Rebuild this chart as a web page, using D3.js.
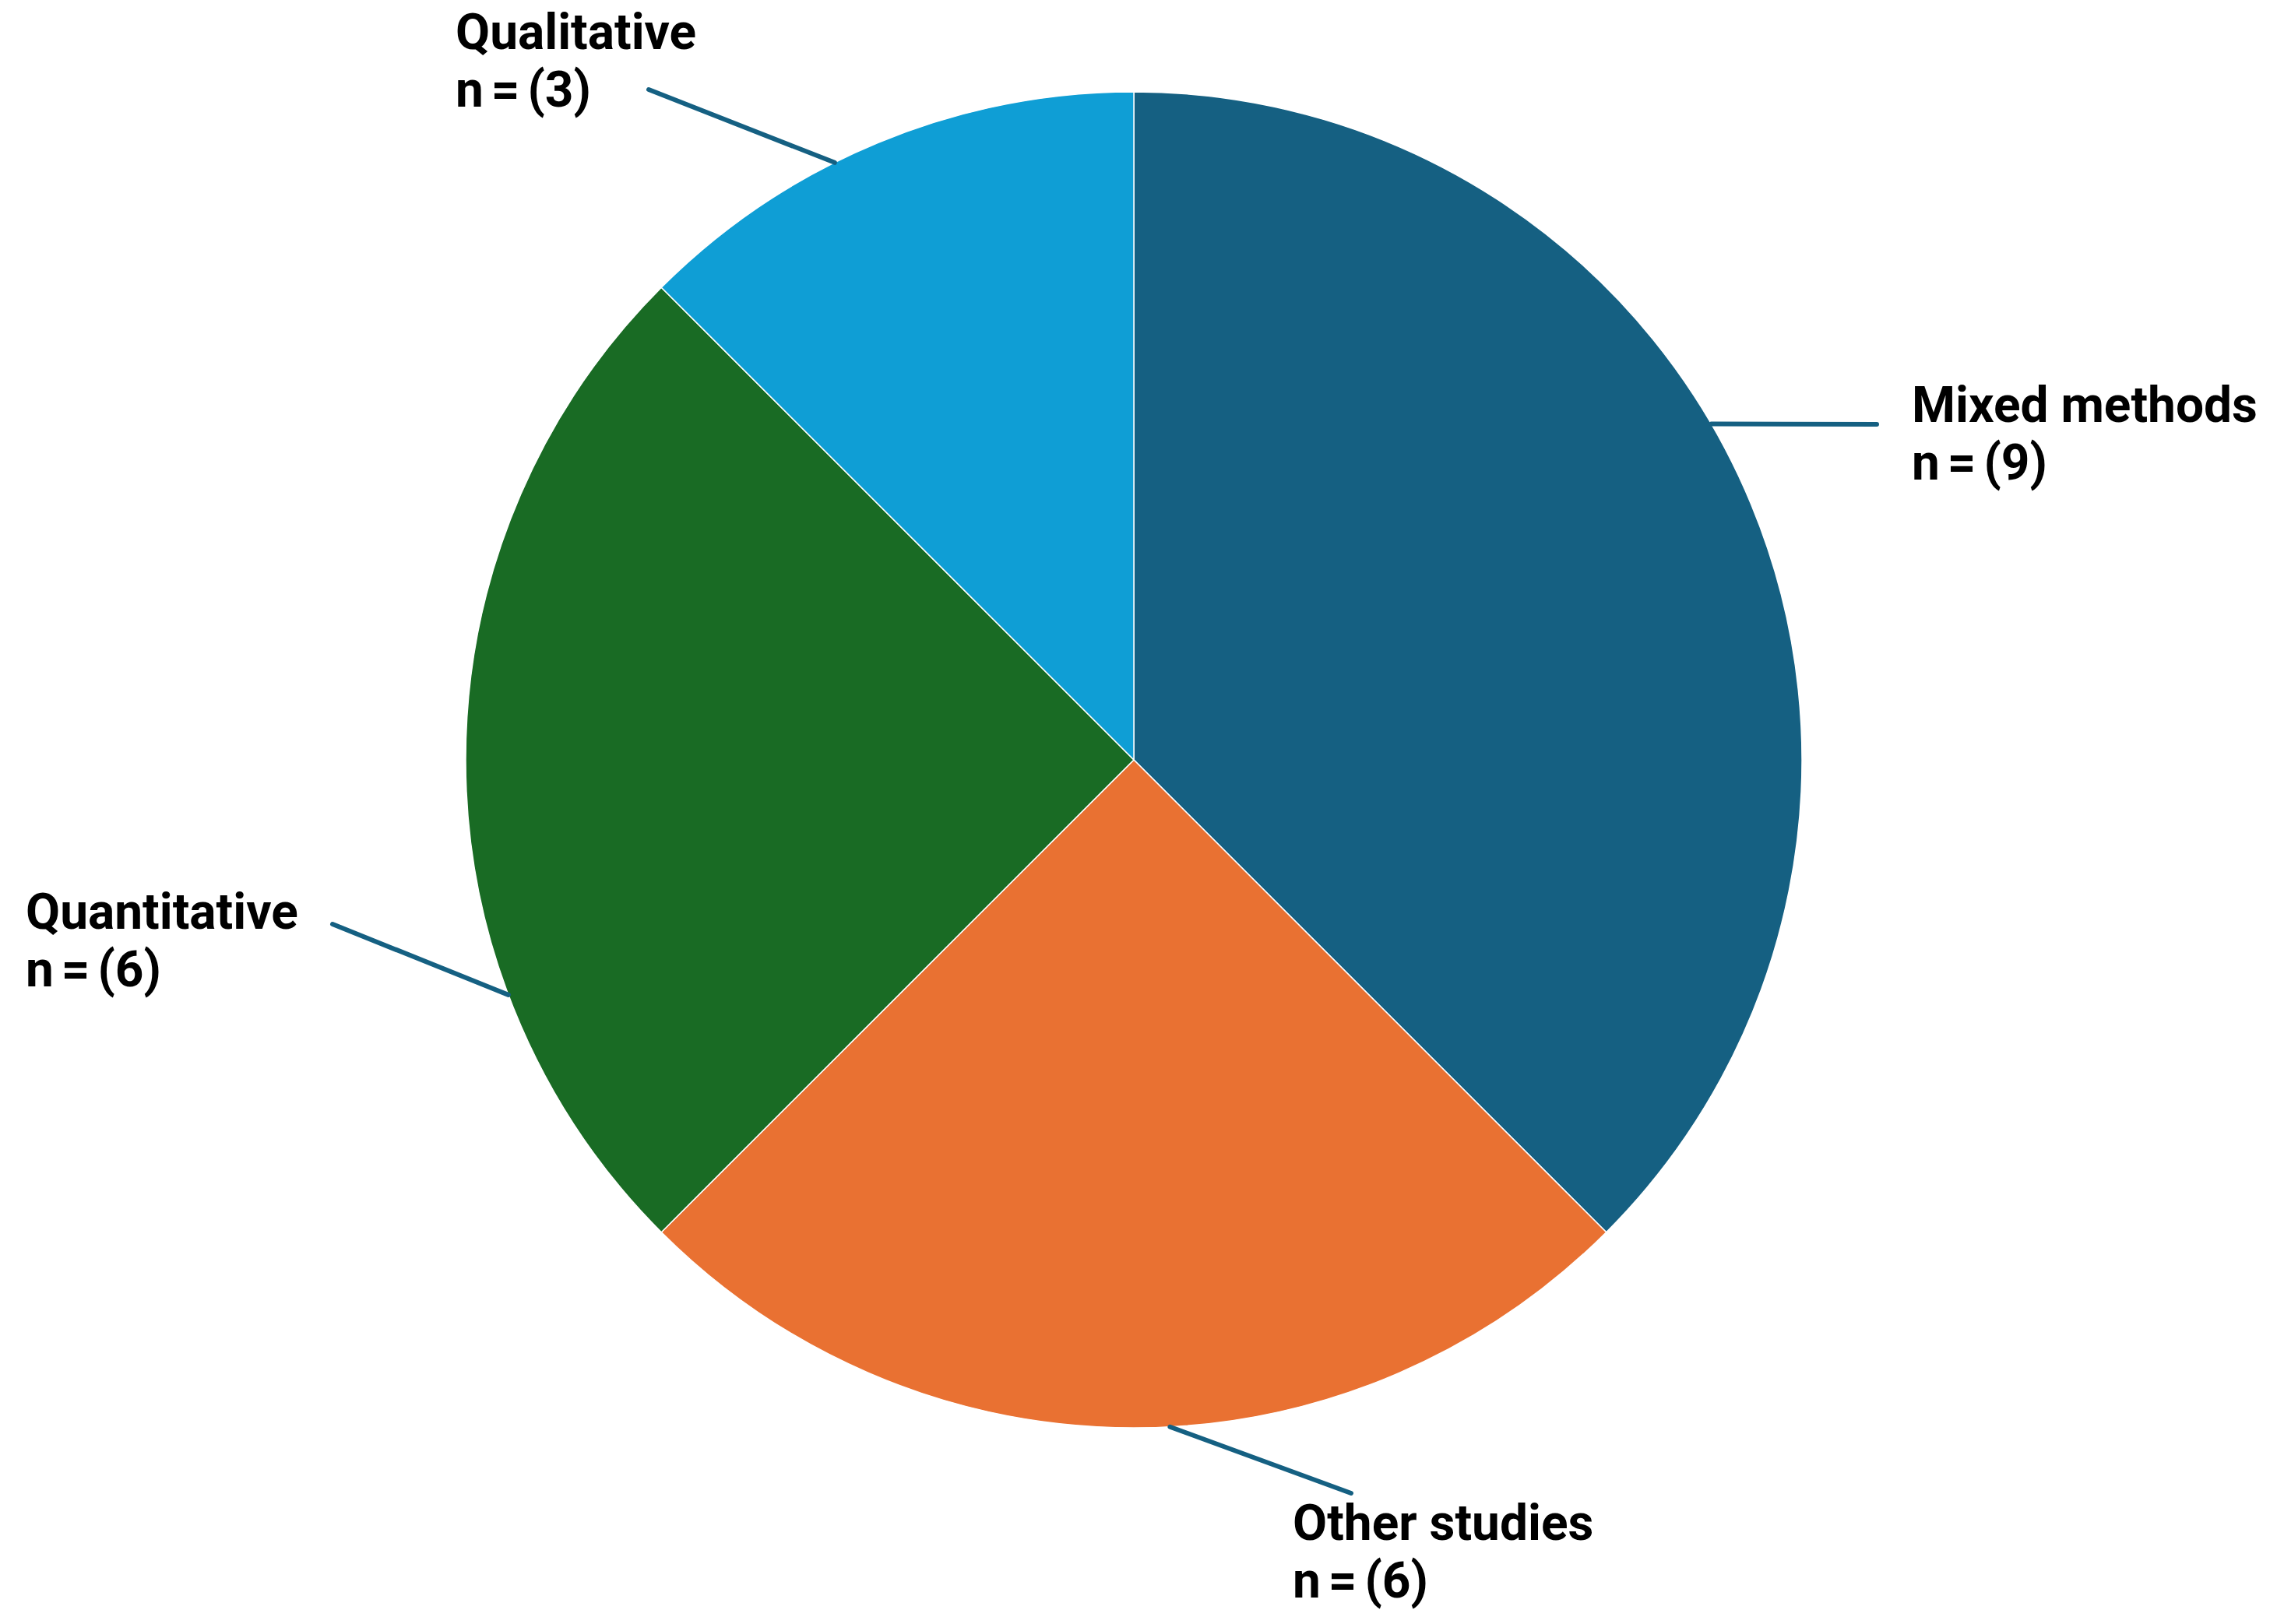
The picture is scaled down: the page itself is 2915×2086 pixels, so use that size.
<!DOCTYPE html>
<html>
<head>
<meta charset="utf-8">
<script src="https://cdn.jsdelivr.net/npm/d3@7"></script>
<style>
  html, body { margin: 0; padding: 0; background: #fff; }
  svg { display: block; }
</style>
</head>
<body>
<div id="chart"></div>
<script>
// study types, clockwise from 12 o'clock
const categories = ['Mixed methods', 'Other studies', 'Quantitative', 'Qualitative'];
const counts = [9, 6, 6, 3];
const colors = ['#156082', '#E97132', '#196B24', '#0F9ED5'];

// where each label sits and where its leader touches the pie (degrees, clockwise from top)
const labelLayout = {
  'Mixed methods': { x: 2455, y: 542, lineTo: [-45, 3], angle: 59.8 },
  'Other studies': { x: 1660, y: 1978, lineTo: [75, -60], angle: 176.9 },
  'Quantitative': { x: 33, y: 1193, lineTo: [394, -6], angle: 249.4 },
  'Qualitative': { x: 585, y: 63, lineTo: [248, 52], angle: 333.4 }
};

const width = 2915;
const height = 2086;
const cx = 1456;
const cy = 976;
const radius = 858;
const lineHeight = 74;

const data = categories.map((c, i) => ({ name: c, value: counts[i], color: colors[i] }));

const svg = d3.select('#chart').append('svg')
  .attr('width', width)
  .attr('height', height);

svg.append('rect')
  .attr('width', width)
  .attr('height', height)
  .attr('fill', '#fff');

const pie = d3.pie()
  .sort(null)
  .value(d => d.value);

const arc = d3.arc()
  .innerRadius(0)
  .outerRadius(radius);

const g = svg.append('g')
  .attr('transform', `translate(${cx},${cy})`);

g.selectAll('.slice')
  .data(pie(data))
  .enter()
  .append('path')
  .attr('class', 'slice')
  .attr('d', arc)
  .attr('fill', d => d.data.color)
  .attr('stroke', '#fff')
  .attr('stroke-width', 1.5);

// leader lines
svg.selectAll('.leader')
  .data(data)
  .enter()
  .append('line')
  .attr('class', 'leader')
  .each(function (d) {
    const l = labelLayout[d.name];
    const p = d3.pointRadial(l.angle * Math.PI / 180, radius);
    d3.select(this)
      .attr('x1', cx + p[0])
      .attr('y1', cy + p[1])
      .attr('x2', l.x + l.lineTo[0])
      .attr('y2', l.y + l.lineTo[1]);
  })
  .style('stroke', '#156082')
  .style('stroke-width', 6)
  .style('stroke-linecap', 'round');

// labels
const labels = svg.selectAll('.label')
  .data(data)
  .enter()
  .append('text')
  .attr('class', 'label')
  .attr('x', d => labelLayout[d.name].x)
  .attr('y', d => labelLayout[d.name].y)
  .style('font-family', 'Roboto, "Liberation Sans", sans-serif')
  .style('font-weight', 700)
  .style('font-size', '64px')
  .style('fill', '#000');

labels.append('tspan')
  .text(d => d.name);

labels.append('tspan')
  .attr('x', d => labelLayout[d.name].x)
  .attr('dy', lineHeight)
  .style('word-spacing', '-6px')
  .text(d => `n = (${d.value})`);
</script>
</body>
</html>
